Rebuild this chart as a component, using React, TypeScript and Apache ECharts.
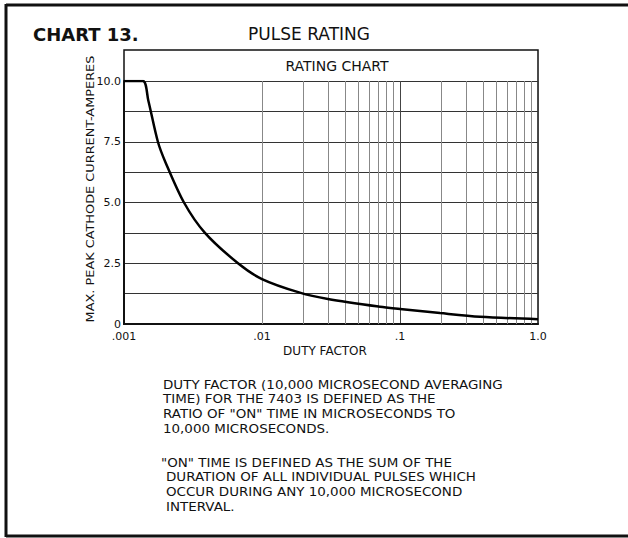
import React, { useEffect, useRef } from "react";
import * as echarts from "echarts";

const dutyFactor = [0.001, 0.00137, 0.0015, 0.00176, 0.002, 0.00272, 0.00386, 0.0067, 0.01, 0.0188, 0.03, 0.0717, 0.1, 0.195, 0.38, 1.0];
const peakAmps = [10, 10, 9.2, 7.5, 6.65, 5.0, 3.75, 2.5, 1.85, 1.29, 1.03, 0.71, 0.62, 0.45, 0.3, 0.2];
const xTickLabels: Record<string, string> = { "0.001": ".001", "0.01": ".01", "0.1": ".1", "1": "1.0" };
const yTickLabels: Record<string, string> = { "0": "0", "2.5": "2.5", "5": "5.0", "7.5": "7.5", "10": "10.0" };
const minorDuty = [2, 3, 4, 5, 6, 7, 8, 9].flatMap((m) => [m * 0.001, m * 0.01, m * 0.1]);
const noteLines1 = [
  "DUTY FACTOR (10,000 MICROSECOND AVERAGING",
  "TIME) FOR THE 7403 IS DEFINED AS THE",
  "RATIO OF \"ON\" TIME IN MICROSECONDS TO",
  "10,000 MICROSECONDS.",
];
const noteLines2 = [
  "\"ON\" TIME IS DEFINED AS THE SUM OF THE",
  "DURATION OF ALL INDIVIDUAL PULSES WHICH",
  "OCCUR DURING ANY 10,000 MICROSECOND",
  "INTERVAL.",
];

const FONT = "DejaVu Sans";

export default function App() {
  const ref = useRef<HTMLDivElement>(null);
  useEffect(() => {
    document.body.style.margin = "0";
    const chart = echarts.init(ref.current!, null, { renderer: "svg" });
    const noteY1 = [385, 399, 414, 429];
    const noteY2 = [463, 477, 492, 507];
    const textEl = (t: string, x: number, y: number, size: number, opts: any = {}) => ({
      type: "text",
      x,
      y,
      scaleX: opts.scaleX ?? 1,
      style: {
        text: t,
        fontFamily: FONT,
        fontSize: size,
        fontWeight: opts.bold ? "bold" : "normal",
        fill: "#111",
        align: opts.align ?? "left",
        verticalAlign: "middle",
      },
    });
    chart.setOption({
      animation: false,
      backgroundColor: "#fff",
      grid: { left: 124, right: 90, top: 81, bottom: 214 },
      xAxis: {
        type: "log",
        logBase: 10,
        min: 0.001,
        max: 1,
        axisLine: { show: true, lineStyle: { color: "#111", width: 2 } },
        axisTick: { show: false },
        axisLabel: {
          color: "#111",
          fontFamily: FONT,
          fontSize: 11,
          margin: 7,
          formatter: (v: number) => xTickLabels[String(+v.toPrecision(6))] ?? "",
        },
        splitLine: { show: true, lineStyle: { color: "#444", width: 1 } },
      },
      yAxis: {
        type: "value",
        min: 0,
        max: 10,
        interval: 1.25,
        axisLine: { show: true, lineStyle: { color: "#111", width: 2 } },
        axisTick: { show: false },
        axisLabel: {
          color: "#111",
          fontFamily: FONT,
          fontSize: 11,
          margin: 3,
          formatter: (v: number) => yTickLabels[String(v)] ?? "",
        },
        splitLine: { show: true, lineStyle: { color: "#333", width: 1 } },
      },
      series: [
        {
          type: "line",
          data: dutyFactor.map((d, i) => [d, peakAmps[i]]),
          smooth: 0.3,
          symbol: "none",
          lineStyle: { color: "#000", width: 2.5 },
          z: 5,
          markLine: {
            silent: true,
            symbol: "none",
            label: { show: false },
            lineStyle: { color: "#888", width: 1, type: "solid" },
            data: minorDuty.map((d) => ({ xAxis: d })),
            z: 1,
          },
        },
      ],
      graphic: [
        { type: "line", shape: { x1: 6, y1: 5, x2: 628, y2: 5 }, style: { stroke: "#111", lineWidth: 3 } },
        { type: "line", shape: { x1: 6, y1: 4, x2: 6, y2: 537 }, style: { stroke: "#111", lineWidth: 3 } },
        { type: "line", shape: { x1: 6, y1: 536, x2: 628, y2: 536 }, style: { stroke: "#111", lineWidth: 3 } },
        { type: "rect", shape: { x: 124, y: 50, width: 414, height: 274 }, style: { fill: "none", stroke: "#111", lineWidth: 1.5 } },
        textEl("CHART 13.", 33, 34, 18, { bold: true }),
        textEl("PULSE RATING", 309, 34, 17, { align: "center" }),
        textEl("RATING CHART", 337, 66, 14, { align: "center" }),
        textEl("DUTY FACTOR", 325, 351, 12, { align: "center" }),
        {
          type: "text",
          x: 90,
          y: 189,
          rotation: Math.PI / 2,
          scaleX: 1.17,
          style: {
            text: "MAX. PEAK CATHODE CURRENT-AMPERES",
            fontFamily: FONT,
            fontSize: 11,
            fill: "#111",
            align: "center",
            verticalAlign: "middle",
          },
        },
        ...noteLines1.map((t, i) => textEl(t, 163, noteY1[i], 11.5, { scaleX: 1.17 })),
        ...noteLines2.map((t, i) => textEl(t, i === 0 ? 161 : 166, noteY2[i], 11.5, { scaleX: 1.17 })),
      ],
    });
    return () => chart.dispose();
  }, []);
  return <div ref={ref} style={{ position: "absolute", left: 0, top: 0, width: 628, height: 538 }} />;
}
